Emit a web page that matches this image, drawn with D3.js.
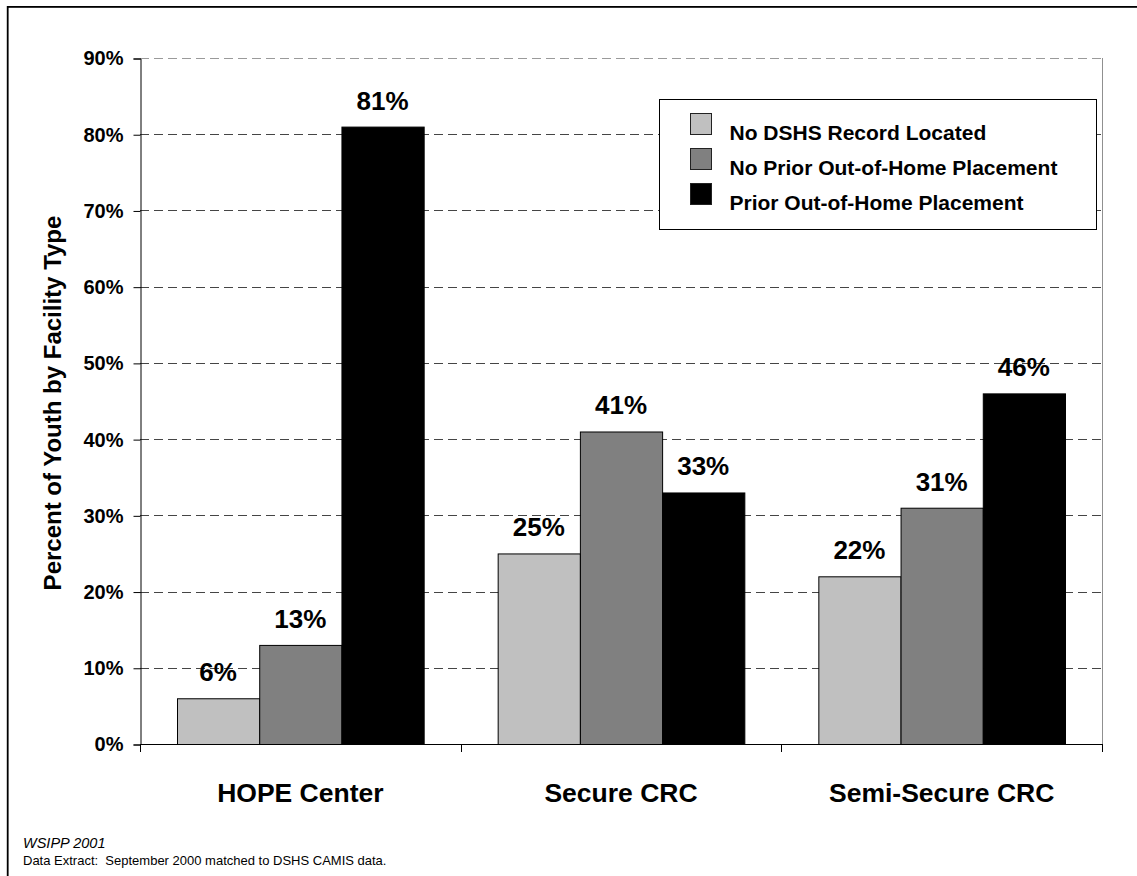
<!DOCTYPE html>
<html>
<head>
<meta charset="utf-8">
<script src="https://cdn.jsdelivr.net/npm/d3@7"></script>
<style>
  html, body { margin: 0; padding: 0; background: #fff; }
  svg { display: block; font-family: "Liberation Sans", Arial, sans-serif; }
</style>
</head>
<body>
<svg id="chart" width="1137" height="876"></svg>
<script>
// Facility types along the x axis
const categories = ["HOPE Center", "Secure CRC", "Semi-Secure CRC"];
// Record status groups (one bar per group in each facility)
const seriesNames = [
  "No DSHS Record Located",
  "No Prior Out-of-Home Placement",
  "Prior Out-of-Home Placement"
];
// Percent of youth, one list per record status, in category order
const noRecord = [6, 25, 22];
const noPriorPlacement = [13, 41, 31];
const priorPlacement = [81, 33, 46];
// Y axis tick values (percent)
const yTicks = [0, 10, 20, 30, 40, 50, 60, 70, 80, 90];

const seriesValues = [noRecord, noPriorPlacement, priorPlacement];
const colors = ["#c0c0c0", "#808080", "#000000"];

const svg = d3.select("#chart");
const plot = { left: 140, right: 1102, top: 58, bottom: 744 };

// Outer frame
svg.append("rect")
  .attr("x", 7.7).attr("y", 6.9)
  .attr("width", 1300).attr("height", 1000)
  .attr("fill", "none").attr("stroke", "#000").attr("stroke-width", 1.8);

const y = d3.scaleLinear().domain([0, 90]).range([plot.bottom, plot.top]);
const x0 = d3.scaleBand().domain(categories).range([plot.left, plot.right]).padding(0);
const gap = x0.bandwidth() * 0.9 / 3.9;
const x1 = d3.scaleBand().domain(seriesNames).range([gap / 2, x0.bandwidth() - gap / 2]).padding(0);

// Right edge of the plot area
svg.append("line")
  .attr("x1", plot.right + 0.5).attr("x2", plot.right + 0.5)
  .attr("y1", plot.top).attr("y2", plot.bottom)
  .attr("stroke", "#909090").attr("stroke-width", 1);

// Dashed horizontal gridlines
svg.append("g").selectAll("line")
  .data(yTicks.filter(t => t > 0))
  .join("line")
  .attr("x1", plot.left).attr("x2", plot.right)
  .attr("y1", d => Math.round(y(d)) + 0.5).attr("y2", d => Math.round(y(d)) + 0.5)
  .attr("stroke", d => d === 90 ? "#9a9a9a" : "#454545")
  .attr("stroke-width", 1)
  .attr("stroke-dasharray", "9,5");

// Bars
const rows = categories.map((c, i) => ({
  cat: c,
  vals: seriesNames.map((s, j) => ({ s, j, v: seriesValues[j][i] }))
}));

const groups = svg.append("g").selectAll("g")
  .data(rows)
  .join("g")
  .attr("transform", d => `translate(${x0(d.cat)},0)`);

groups.selectAll("rect")
  .data(d => d.vals)
  .join("rect")
  .attr("x", d => x1(d.s) + 0.5)
  .attr("y", d => y(d.v) + 0.5)
  .attr("width", x1.bandwidth())
  .attr("height", d => y(0) - y(d.v))
  .attr("fill", d => colors[d.j])
  .attr("stroke", "#000")
  .attr("stroke-width", 1);

// Value labels
groups.selectAll("text")
  .data(d => d.vals)
  .join("text")
  .attr("x", d => x1(d.s) + x1.bandwidth() / 2)
  .attr("y", d => y(d.v) - 17)
  .attr("text-anchor", "middle")
  .attr("font-size", 26)
  .attr("font-weight", "bold")
  .text(d => d.v + "%");

// Y axis
const yAxis = d3.axisLeft(y)
  .tickValues(yTicks)
  .tickSize(7)
  .tickPadding(10)
  .tickFormat(d => d + "%");
const gy = svg.append("g")
  .attr("transform", `translate(${plot.left + 0.5},0.5)`)
  .call(yAxis);
gy.select(".domain").attr("stroke", "#000");
gy.selectAll(".tick line").attr("stroke", "#000");
gy.selectAll(".tick text")
  .attr("font-size", 20).attr("font-weight", "bold")
  .attr("font-family", "'Liberation Sans', Arial, sans-serif")
  .attr("fill", "#000");

// X axis: baseline with ticks at category boundaries
const xAxis = svg.append("g");
xAxis.append("line")
  .attr("x1", plot.left).attr("x2", plot.right + 1)
  .attr("y1", plot.bottom + 0.5).attr("y2", plot.bottom + 0.5)
  .attr("stroke", "#000");
const bounds = categories.map(c => x0(c)).concat([plot.right]);
xAxis.selectAll("line.tk")
  .data(bounds)
  .join("line")
  .attr("class", "tk")
  .attr("x1", d => Math.round(d) + 0.5).attr("x2", d => Math.round(d) + 0.5)
  .attr("y1", plot.bottom).attr("y2", plot.bottom + 8)
  .attr("stroke", "#000");

xAxis.selectAll("text")
  .data(categories)
  .join("text")
  .attr("x", d => x0(d) + x0.bandwidth() / 2)
  .attr("y", 802)
  .attr("text-anchor", "middle")
  .attr("font-size", 26.5)
  .attr("font-weight", "bold")
  .text(d => d);

// Y axis title
svg.append("text")
  .attr("transform", "translate(61,403) rotate(-90)")
  .attr("text-anchor", "middle")
  .attr("font-size", 24)
  .attr("font-weight", "bold")
  .text("Percent of Youth by Facility Type");

// Legend
const legend = svg.append("g").attr("transform", "translate(659.5,99.5)");
legend.append("rect")
  .attr("width", 437).attr("height", 130)
  .attr("fill", "#fff").attr("stroke", "#000").attr("stroke-width", 1);
const items = legend.selectAll("g")
  .data(seriesNames)
  .join("g")
  .attr("transform", (d, i) => `translate(0,${i * 35})`);
items.append("rect")
  .attr("x", 31).attr("y", 14)
  .attr("width", 21).attr("height", 21)
  .attr("fill", (d, i) => colors[i])
  .attr("stroke", "#222").attr("stroke-width", 1);
items.append("text")
  .attr("x", 70).attr("y", 40)
  .attr("font-size", 21)
  .attr("font-weight", "bold")
  .text(d => d);

// Source notes
svg.append("text")
  .attr("x", 23).attr("y", 848)
  .attr("font-size", 14.5)
  .attr("font-style", "italic")
  .text("WSIPP 2001");
svg.append("text")
  .attr("x", 23).attr("y", 865)
  .attr("font-size", 13)
  .attr("xml:space", "preserve")
  .style("white-space", "pre")
  .text("Data Extract:  September 2000 matched to DSHS CAMIS data.");
</script>
</body>
</html>
